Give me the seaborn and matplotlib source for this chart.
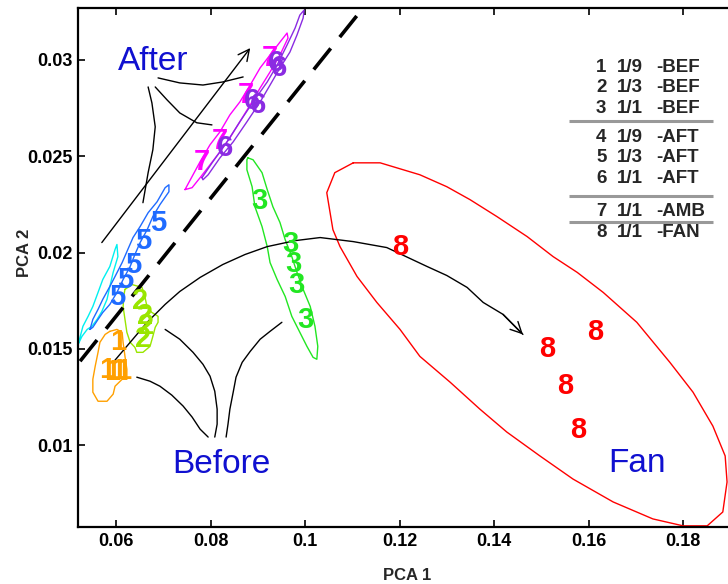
import matplotlib
matplotlib.use("Agg")
import matplotlib.pyplot as plt
import seaborn as sns
import pandas as pd

# ---------------- data ----------------
# group outlines (PCA1, PCA2)
c1_x = [0.0587, 0.0602, 0.0613, 0.0615, 0.0619, 0.0623, 0.0623, 0.0613, 0.0598, 0.0594, 0.0581, 0.0562, 0.0551, 0.0551, 0.0556, 0.0562, 0.0566, 0.0577]
c1_y = [0.01591, 0.01601, 0.01586, 0.01534, 0.01461, 0.01394, 0.01342, 0.01342, 0.01306, 0.01265, 0.01228, 0.01228, 0.01275, 0.01342, 0.01410, 0.01482, 0.01534, 0.01575]

c2_x = [0.0619, 0.0634, 0.0655, 0.0661, 0.0666, 0.0676, 0.0689, 0.0689, 0.0683, 0.0678, 0.0672, 0.0657, 0.0644, 0.0640, 0.0630, 0.0623, 0.0619, 0.0615, 0.0617]
c2_y = [0.01809, 0.01834, 0.01819, 0.01772, 0.01715, 0.01689, 0.01669, 0.01638, 0.01612, 0.01565, 0.01513, 0.01482, 0.01482, 0.01508, 0.01534, 0.01586, 0.01653, 0.01720, 0.01783]

c3_x = [0.0879, 0.0890, 0.0909, 0.0920, 0.0932, 0.0947, 0.0958, 0.0972, 0.0983, 0.0996, 0.1011, 0.1021, 0.1027, 0.1025, 0.1017, 0.1004, 0.0989, 0.0972, 0.0958, 0.0941, 0.0926, 0.0920, 0.0909, 0.0894, 0.0888, 0.0877, 0.0877]
c3_y = [0.02492, 0.02482, 0.02415, 0.02327, 0.02238, 0.02156, 0.02067, 0.01979, 0.01897, 0.01809, 0.01720, 0.01617, 0.01513, 0.01446, 0.01456, 0.01513, 0.01586, 0.01669, 0.01772, 0.01860, 0.01948, 0.02031, 0.02135, 0.02238, 0.02342, 0.02430, 0.02482]

c4_x = [0.0520, 0.0530, 0.0541, 0.0551, 0.0562, 0.0572, 0.0587, 0.0598, 0.0602, 0.0604, 0.0594, 0.0587, 0.0581, 0.0570, 0.0560, 0.0549, 0.0539, 0.0528]
c4_y = [0.01524, 0.01617, 0.01669, 0.01720, 0.01793, 0.01860, 0.01928, 0.02016, 0.02042, 0.01979, 0.01897, 0.01824, 0.01757, 0.01694, 0.01653, 0.01617, 0.01601, 0.01565]

c5_x = [0.0545, 0.0551, 0.0562, 0.0572, 0.0587, 0.0598, 0.0613, 0.0625, 0.0636, 0.0651, 0.0668, 0.0687, 0.0704, 0.0712, 0.0712, 0.0693, 0.0678, 0.0666, 0.0651, 0.0640, 0.0630, 0.0615, 0.0602, 0.0587, 0.0572, 0.0562, 0.0551]
c5_y = [0.01601, 0.01653, 0.01705, 0.01757, 0.01824, 0.01876, 0.01948, 0.02016, 0.02078, 0.02135, 0.02207, 0.02264, 0.02337, 0.02352, 0.02316, 0.02249, 0.02187, 0.02119, 0.02052, 0.01990, 0.01928, 0.01860, 0.01793, 0.01731, 0.01689, 0.01653, 0.01612]

c6_x = [0.0782, 0.0805, 0.0835, 0.0862, 0.0890, 0.0920, 0.0941, 0.0962, 0.0979, 0.0989, 0.0998, 0.0996, 0.0983, 0.0968, 0.0947, 0.0926, 0.0905, 0.0877, 0.0848, 0.0820, 0.0795, 0.0784]
c6_y = [0.02389, 0.02472, 0.02575, 0.02679, 0.02782, 0.02886, 0.02974, 0.03078, 0.03166, 0.03233, 0.03259, 0.03218, 0.03130, 0.03041, 0.02959, 0.02870, 0.02782, 0.02679, 0.02575, 0.02492, 0.02404, 0.02378]

c7_x = [0.0746, 0.0763, 0.0778, 0.0799, 0.0820, 0.0841, 0.0862, 0.0884, 0.0905, 0.0926, 0.0947, 0.0962, 0.0964, 0.0947, 0.0926, 0.0905, 0.0884, 0.0862, 0.0841, 0.0820, 0.0799, 0.0778, 0.0761]
c7_y = [0.02327, 0.02404, 0.02472, 0.02560, 0.02627, 0.02715, 0.02782, 0.02870, 0.02959, 0.03026, 0.03093, 0.03140, 0.03114, 0.03026, 0.02938, 0.02855, 0.02767, 0.02679, 0.02596, 0.02523, 0.02456, 0.02389, 0.02337]

c8_x = [0.1102, 0.1159, 0.1243, 0.1300, 0.1349, 0.1406, 0.1470, 0.1525, 0.1576, 0.1631, 0.1702, 0.1772, 0.1821, 0.1863, 0.1889, 0.1893, 0.1884, 0.1851, 0.1800, 0.1736, 0.1652, 0.1567, 0.1497, 0.1427, 0.1370, 0.1307, 0.1243, 0.1201, 0.1152, 0.1110, 0.1074, 0.1059, 0.1046, 0.1063]
c8_y = [0.02466, 0.02466, 0.02404, 0.02342, 0.02275, 0.02187, 0.02083, 0.01979, 0.01897, 0.01793, 0.01638, 0.01430, 0.01275, 0.01099, 0.00944, 0.00809, 0.00653, 0.00581, 0.00581, 0.00617, 0.00705, 0.00824, 0.00944, 0.01068, 0.01187, 0.01327, 0.01461, 0.01601, 0.01741, 0.01876, 0.02031, 0.02119, 0.02311, 0.02415]

# group sample labels (digit drawn at each sample position)
p1_x = [0.0604, 0.0581, 0.0592, 0.0604, 0.0615]
p1_y = [0.01534, 0.01389, 0.01379, 0.01384, 0.01384]
p2_x = [0.0651, 0.0661, 0.0663, 0.0657]
p2_y = [0.01746, 0.01669, 0.01617, 0.01550]
p3_x = [0.0903, 0.0968, 0.0975, 0.0981, 0.1000]
p3_y = [0.02270, 0.02042, 0.01943, 0.01834, 0.01648]
p5_x = [0.0689, 0.0657, 0.0636, 0.0619, 0.0602]
p5_y = [0.02156, 0.02062, 0.01938, 0.01855, 0.01767]
p6_x = [0.0939, 0.0945, 0.0888, 0.0900, 0.0831]
p6_y = [0.02984, 0.02959, 0.02788, 0.02767, 0.02544]
p7_x = [0.0926, 0.0875, 0.0820, 0.0782]
p7_y = [0.03010, 0.02819, 0.02580, 0.02472]
p8_x = [0.1201, 0.1614, 0.1512, 0.1550, 0.1578]
p8_y = [0.02031, 0.01586, 0.01498, 0.01306, 0.01078]

# annotation strokes
after_c1_x = [0.0689, 0.0735, 0.0784, 0.0826, 0.0869]
after_c1_y = [0.02907, 0.02881, 0.02870, 0.02886, 0.02912]
after_c2_x = [0.0683, 0.0708, 0.0735, 0.0771, 0.0803]
after_c2_y = [0.02860, 0.02793, 0.02725, 0.02674, 0.02663]
after_c3_x = [0.0668, 0.0676, 0.0683, 0.0678, 0.0668, 0.0657]
after_c3_y = [0.02860, 0.02777, 0.02653, 0.02534, 0.02415, 0.02259]
after_arrow_x = [0.0570, 0.0884]
after_arrow_y = [0.02052, 0.03062]

fan_arrow_x = [0.0594, 0.0630, 0.0666, 0.0704, 0.0735, 0.0778, 0.0826, 0.0873, 0.0920, 0.0979, 0.1032, 0.1102, 0.1173, 0.1258, 0.1300, 0.1343, 0.1377, 0.1419, 0.1461]
fan_arrow_y = [0.01430, 0.01534, 0.01638, 0.01731, 0.01798, 0.01871, 0.01938, 0.01990, 0.02031, 0.02062, 0.02078, 0.02057, 0.02026, 0.01928, 0.01881, 0.01819, 0.01741, 0.01679, 0.01575]

before_c1_x = [0.0704, 0.0735, 0.0763, 0.0784, 0.0799, 0.0809, 0.0814, 0.0814, 0.0809]
before_c1_y = [0.01601, 0.01550, 0.01482, 0.01420, 0.01358, 0.01280, 0.01187, 0.01109, 0.01042]
before_c2_x = [0.0951, 0.0926, 0.0905, 0.0884, 0.0867, 0.0854, 0.0848, 0.0841, 0.0837, 0.0833]
before_c2_y = [0.01638, 0.01591, 0.01550, 0.01487, 0.01430, 0.01353, 0.01275, 0.01187, 0.01109, 0.01042]
before_c3_x = [0.0644, 0.0672, 0.0693, 0.0718, 0.0742, 0.0761, 0.0778, 0.0795]
before_c3_y = [0.01353, 0.01332, 0.01306, 0.01260, 0.01203, 0.01146, 0.01083, 0.01042]

divider_x = [0.0524, 0.1114]
divider_y = [0.01436, 0.03243]

word_labels = ["After", "Before", "Fan"]
word_x = [0.0678, 0.0824, 0.1702]
word_y = [0.0299, 0.0090, 0.00907]

xticks = [0.06, 0.08, 0.10, 0.12, 0.14, 0.16, 0.18]
xtick_labels = ["0.06", "0.08", "0.1", "0.12", "0.14", "0.16", "0.18"]
yticks = [0.01, 0.015, 0.02, 0.025, 0.03]
ytick_labels = ["0.01", "0.015", "0.02", "0.025", "0.03"]

legend_nums = ["1", "2", "3", "4", "5", "6", "7", "8"]
legend_ratio = ["1/9", "1/3", "1/1", "1/9", "1/3", "1/1", "1/1", "1/1"]
legend_cond = ["-BEF", "-BEF", "-BEF", "-AFT", "-AFT", "-AFT", "-AMB", "-FAN"]

# ---------------- styling ----------------
sns.set_theme(style="white")
plt.rcParams["font.family"] = ["Liberation Sans", "DejaVu Sans"]

col = {1: "#ffa000", 2: "#99e600", 3: "#22e622", 4: "#00f0f0", 5: "#1f6bff",
       6: "#8a2be2", 7: "#ff00ff", 8: "#ff0000"}
word_col = "#1010d0"

fig = plt.figure(figsize=(7.28, 5.84), dpi=100)
ax = fig.add_axes([78 / 728, 57 / 584, 650 / 728, 519 / 584])

def outline(xs, ys, c, lw=1.0, z=2):
    d = pd.DataFrame({"x": list(xs) + [xs[0]], "y": list(ys) + [ys[0]]})
    sns.lineplot(data=d, x="x", y="y", sort=False, estimator=None, color=c, lw=lw, ax=ax, zorder=z)

def stroke(xs, ys, c="black", lw=1.0):
    d = pd.DataFrame({"x": xs, "y": ys})
    sns.lineplot(data=d, x="x", y="y", sort=False, estimator=None, color=c, lw=lw, ax=ax, zorder=3)

outline(c8_x, c8_y, col[8])
outline(c3_x, c3_y, col[3])
outline(c2_x, c2_y, col[2])
outline(c1_x, c1_y, col[1])
outline(c4_x, c4_y, col[4])
outline(c5_x, c5_y, col[5])
outline(c7_x, c7_y, col[7])
outline(c6_x, c6_y, col[6])

# digits
def digits(xs, ys, s, c, z=4):
    for x, y in zip(xs, ys):
        ax.text(x, y, s, color=c, fontsize=21, fontweight="heavy", ha="center", va="center", zorder=z)

digits(p7_x, p7_y, "7", col[7], z=4)
digits(p6_x, p6_y, "6", col[6], z=5)
digits(p5_x, p5_y, "5", col[5])
digits(p3_x, p3_y, "3", col[3])
digits(p2_x, p2_y, "2", col[2])
digits(p1_x, p1_y, "1", col[1])
digits(p8_x, p8_y, "8", col[8])

# dashed separator
ax.plot(divider_x, divider_y, color="black", lw=2.6, linestyle=(0, (7.5, 4)), zorder=3,
        dash_capstyle="butt")

# annotation strokes
stroke(after_c1_x, after_c1_y)
stroke(after_c2_x, after_c2_y)
stroke(after_c3_x, after_c3_y)
ax.annotate("", xy=(after_arrow_x[1], after_arrow_y[1]), xytext=(after_arrow_x[0], after_arrow_y[0]),
            arrowprops=dict(arrowstyle="->", color="black", lw=1.0, mutation_scale=20,
                            shrinkA=0, shrinkB=0), zorder=3)
stroke(fan_arrow_x, fan_arrow_y)
ax.annotate("", xy=(fan_arrow_x[-1], fan_arrow_y[-1]), xytext=(fan_arrow_x[-2], fan_arrow_y[-2]),
            arrowprops=dict(arrowstyle="->", color="black", lw=1.0, mutation_scale=20,
                            shrinkA=0, shrinkB=0), zorder=3)
stroke(before_c1_x, before_c1_y)
stroke(before_c2_x, before_c2_y)
stroke(before_c3_x, before_c3_y)

for w, x, y in zip(word_labels, word_x, word_y):
    ax.text(x, y, w, color=word_col, fontsize=24, ha="center", va="center", zorder=6)

# legend block (axes fraction)
leg_y = [0.886, 0.846, 0.807, 0.751, 0.711, 0.672, 0.607, 0.568]
for n, r, cnd, y in zip(legend_nums, legend_ratio, legend_cond, leg_y):
    ax.text(0.797, y, n, transform=ax.transAxes, fontsize=13.5, fontweight="bold", ha="left", va="center")
    ax.text(0.829, y, r, transform=ax.transAxes, fontsize=13.5, fontweight="bold", ha="left", va="center")
    ax.text(0.889, y, cnd, transform=ax.transAxes, fontsize=13.5, fontweight="bold", ha="left", va="center")
for y in [0.782, 0.638, 0.588]:
    ax.plot([0.755, 0.977], [y, y], transform=ax.transAxes, color="#999999", lw=2.2, zorder=5,
            solid_capstyle="butt")

# axes
ax.set_xlim(0.05196, 0.1895)
ax.set_ylim(0.00575, 0.0327)
ax.set_xticks(xticks)
ax.set_xticklabels(xtick_labels)
ax.set_yticks(yticks)
ax.set_yticklabels(ytick_labels)
ax.tick_params(direction="in", length=5, width=1.2, top=True, right=False, bottom=True, left=True,
               labelsize=13, pad=4, colors="black")
for lab in ax.get_xticklabels() + ax.get_yticklabels():
    lab.set_fontweight("bold")
for side in ["left", "bottom", "top"]:
    ax.spines[side].set_visible(True)
    ax.spines[side].set_color("black")
    ax.spines[side].set_linewidth(1.6)
ax.spines["right"].set_visible(False)
ax.grid(False)
ax.set_xlabel("PCA 1", fontsize=12, fontweight="bold")
ax.set_ylabel("PCA 2", fontsize=12, fontweight="bold")
ax.xaxis.set_label_coords((407 - 78) / 650, -(568 - 527) / 519)
ax.yaxis.set_label_coords(-(78 - 32) / 650, (527 - 253) / 519)

fig.savefig("out.png", dpi=100)
